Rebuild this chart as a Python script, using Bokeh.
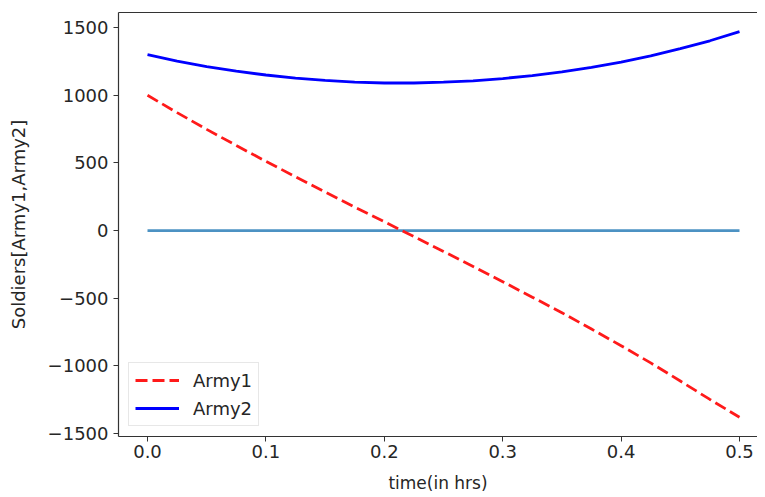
from bokeh.plotting import figure
from bokeh.models import Range1d, FixedTicker, LinearAxis, Legend, LegendItem
from bokeh.embed import file_html
from bokeh.resources import INLINE

# data
time = [0.0, 0.025, 0.05, 0.075, 0.1, 0.125, 0.15, 0.175, 0.2, 0.225, 0.25,
        0.275, 0.3, 0.325, 0.35, 0.375, 0.4, 0.425, 0.45, 0.475, 0.5]
army1 = [1000, 872, 748, 629, 512, 398, 285, 174, 65, -44, -154,
         -265, -378, -492, -607, -728, -851, -978, -1112, -1248, -1380]
army2 = [1300, 1253, 1212, 1178, 1150, 1127, 1110, 1098, 1091, 1091, 1097,
         1107, 1124, 1145, 1173, 1207, 1246, 1292, 1345, 1403, 1470]
zero_line = [0] * len(time)

x_ticks = [0.0, 0.1, 0.2, 0.3, 0.4, 0.5]
x_labels = ["0.0", "0.1", "0.2", "0.3", "0.4", "0.5"]
y_ticks = [-1500, -1000, -500, 0, 500, 1000, 1500]
y_labels = ["\u22121500", "\u22121000", "\u2212500", "0", "500", "1000", "1500"]

FONT = "DejaVu Sans"
TXT = "#262626"
FS = "18px"

p = figure(width=757, height=495, output_backend="svg", toolbar_location=None,
           x_range=Range1d(-0.0245, 0.5152), y_range=Range1d(-1522, 1612),
           min_border_left=118, min_border_right=0, min_border_top=12,
           min_border_bottom=0)
p.outline_line_color = None
p.xgrid.visible = False
p.ygrid.visible = False
p.background_fill_color = "white"

r0 = p.line(time, zero_line, line_color="#1f77b4", line_alpha=0.8, line_width=2.8)
r1 = p.line(time, army1, line_color="#ff1a1a", line_width=2.8, line_dash="12 5")
r2 = p.line(time, army2, line_color="#0000ff", line_width=2.8)

for ax in (p.xaxis[0], p.yaxis[0]):
    ax.axis_line_color = "#333333"
    ax.axis_line_width = 1.2
    ax.major_tick_line_color = "#333333"
    ax.major_tick_out = 5
    ax.major_tick_in = 0
    ax.minor_tick_line_color = None
    ax.major_label_text_font = FONT
    ax.major_label_text_font_size = FS
    ax.major_label_text_color = TXT
    ax.axis_label_text_font = FONT
    ax.axis_label_text_font_size = "17px"
    ax.axis_label_text_font_style = "normal"
    ax.axis_label_text_color = TXT

p.xaxis.ticker = FixedTicker(ticks=x_ticks)
p.xaxis.major_label_overrides = dict(zip(x_ticks, x_labels))
p.xaxis.axis_label = "time(in hrs)"
p.xaxis.major_label_standoff = 3
p.xaxis.axis_label_standoff = 12

p.yaxis.ticker = FixedTicker(ticks=y_ticks)
p.yaxis.major_label_overrides = dict(zip(y_ticks, y_labels))
p.yaxis.axis_label = "Soldiers[Army1,Army2]"
p.yaxis.axis_label_text_font_size = "18px"
p.yaxis.major_label_standoff = 5
p.yaxis.axis_label_standoff = 16

top = LinearAxis(ticker=FixedTicker(ticks=[]), axis_line_color="#333333",
                 axis_line_width=1.2, major_tick_line_color=None,
                 minor_tick_line_color=None, major_label_text_font_size="0px",
                 major_label_standoff=0, major_tick_out=0, major_tick_in=0)
p.add_layout(top, "above")

legend = Legend(items=[LegendItem(label="Army1", renderers=[r1]),
                       LegendItem(label="Army2", renderers=[r2])],
                location="bottom_left")
legend.label_text_font = FONT
legend.label_text_font_size = "18px"
legend.label_text_color = TXT
legend.border_line_color = "#d0d0d0"
legend.border_line_width = 1
legend.background_fill_alpha = 0.8
legend.glyph_width = 44
legend.glyph_height = 22
legend.label_standoff = 14
legend.spacing = 6
legend.padding = 6
legend.margin = 10
p.add_layout(legend)

open("out.html", "w").write(file_html(p, INLINE))
